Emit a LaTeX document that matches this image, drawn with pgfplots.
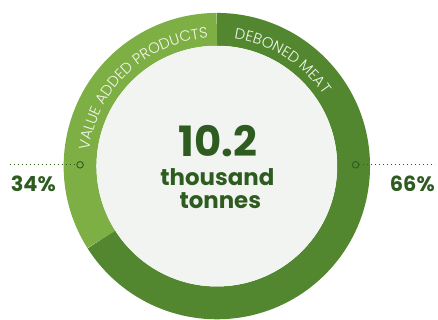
\documentclass[border=0pt]{standalone}
\usepackage{pgfplots}
\pgfplotsset{compat=1.18}
\usepackage{fontspec}
\setmainfont{Poppins}
\newfontfamily\ringfont{Poppins Light}
\usetikzlibrary{decorations.text}
\definecolor{ringdark}{HTML}{52872F}
\definecolor{ringlight}{HTML}{7DAF45}
\definecolor{innerfill}{HTML}{F1F4F0}
\definecolor{textdark}{HTML}{2E5C20}
\definecolor{ringtext}{HTML}{F2F6EC}
% data (percent shares)
\def\valDeboned{66}
\def\valValue{34}
\pgfmathsetmacro\angA{90-3.6*\valDeboned}
\pgfmathsetmacro\angB{\angA-3.6*\valValue}
\begin{document}
\begin{tikzpicture}
\begin{axis}[hide axis, scale only axis, width=438pt, height=321pt,
  xmin=0, xmax=438, ymin=0, ymax=321, clip=false]
\path (axis cs:0,0) rectangle (axis cs:438,321);
% ring segments
\draw[line width=33pt, ringdark] ([shift={(90:137.5pt)}]axis cs:218,154) arc[start angle=90, end angle=\angA, radius=137.5pt];
\draw[line width=33pt, ringlight] ([shift={(\angA:137.5pt)}]axis cs:218,154) arc[start angle=\angA, end angle=\angB, radius=137.5pt];
\fill[innerfill] (axis cs:218,154) circle[radius=121pt];
% curved labels
\path[decorate, decoration={text along path, text align=center,
  text={|\ringfont\fontsize{15}{16}\selectfont\color{ringtext}|DEBONED MEAT}}]
  ([shift={(110:129pt)}]axis cs:218,154) arc[start angle=110, end angle=6, radius=129pt];
\path[decorate, decoration={text along path, text align=center,
  text={|\ringfont\fontsize{15}{16}\selectfont\color{ringtext}|VALUE ADDED PRODUCTS}}]
  ([shift={(190:129pt)}]axis cs:218,154) arc[start angle=190, end angle=77, radius=129pt];
% leader lines
\addplot[textdark, line width=0.8pt, dash pattern=on 0.8pt off 3.2pt] coordinates {(10,155.3) (77,155.3)};
\addplot[textdark, line width=0.8pt, dash pattern=on 0.8pt off 3.2pt] coordinates {(361,155.3) (437,155.3)};
\addplot[only marks, mark=o, mark size=3.3pt, textdark, mark options={line width=0.9pt}] coordinates {(80.5,155.3) (357.5,155.3)};
% percentages
\node[anchor=base, text=textdark, font=\fontsize{21}{22}\selectfont\bfseries] at (axis cs:33.5,128) {34\%};
\node[anchor=base, text=textdark, font=\fontsize{21}{22}\selectfont\bfseries] at (axis cs:414.5,128) {66\%};
% center text
\node[anchor=base, text=textdark, font=\fontsize{42}{44}\selectfont\bfseries] at (axis cs:219,164) {10.2};
\node[anchor=base, text=textdark, font=\fontsize{23}{24}\selectfont\bfseries] at (axis cs:218.5,135) {thousand};
\node[anchor=base, text=textdark, font=\fontsize{23}{24}\selectfont\bfseries] at (axis cs:221.5,111) {tonnes};
\end{axis}
\end{tikzpicture}
\end{document}
